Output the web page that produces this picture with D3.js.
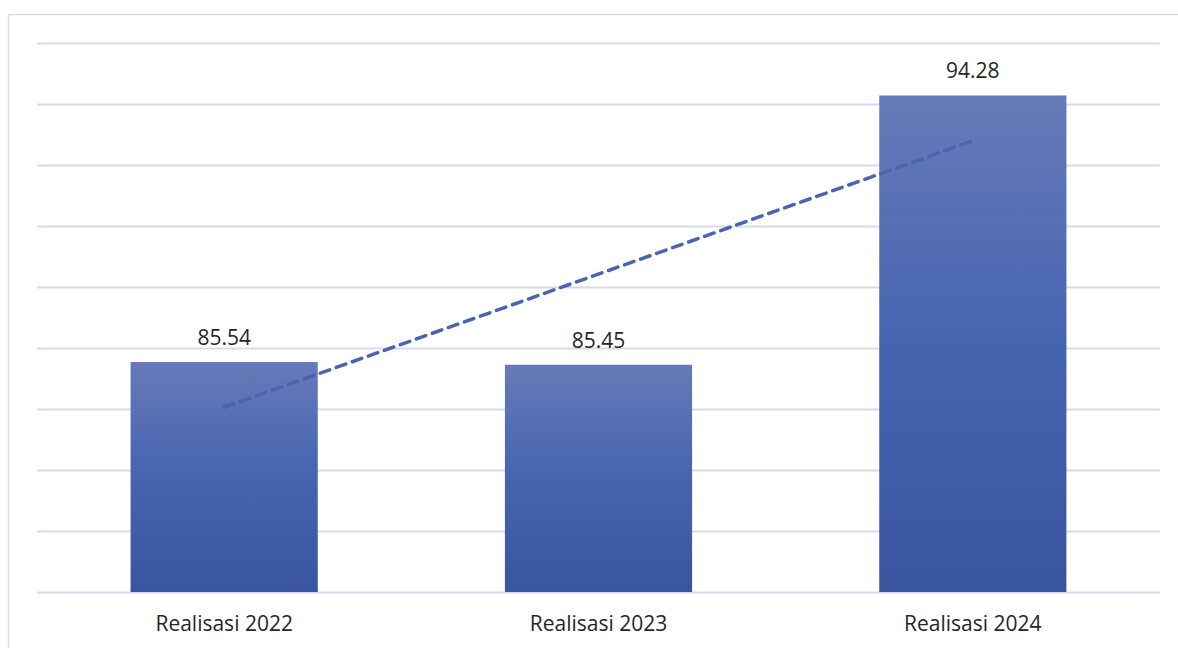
<!DOCTYPE html>
<html>
<head>
<meta charset="utf-8">
<script src="https://cdn.jsdelivr.net/npm/d3@7"></script>
<style>
  html, body { margin: 0; padding: 0; background: #ffffff; }
  svg { display: block; }
</style>
</head>
<body>
<svg id="chart" width="1178" height="648"></svg>
<script>
// Realisasi values per year
const categories = ["Realisasi 2022", "Realisasi 2023", "Realisasi 2024"];
const values = [85.54, 85.45, 94.28];
const valueLabels = ["85.54", "85.45", "94.28"];
const gridTicks = [78, 80, 82, 84, 86, 88, 90, 92, 94, 96];

const W = 1178, H = 648;
const plot = { left: 37, right: 1160, top: 43, bottom: 592 };

const svg = d3.select("#chart");

// chart frame
svg.append("rect")
  .attr("x", 8.5).attr("y", 14.5)
  .attr("width", W + 10).attr("height", H)
  .attr("fill", "none")
  .attr("stroke", "#d9d9ef")
  .attr("stroke-width", 1.5);

const x = d3.scaleBand()
  .domain(categories)
  .range([plot.left, plot.right])
  .paddingInner(0.5)
  .paddingOuter(0.25);

const y = d3.scaleLinear()
  .domain([78, 96])
  .range([plot.bottom, plot.top]);

// bar gradient
const defs = svg.append("defs");
const grad = defs.append("linearGradient")
  .attr("id", "barFill")
  .attr("x1", 0).attr("y1", 0).attr("x2", 0).attr("y2", 1);
grad.append("stop").attr("offset", "0%").attr("stop-color", "#677ab9");
grad.append("stop").attr("offset", "50%").attr("stop-color", "#4564b0");
grad.append("stop").attr("offset", "100%").attr("stop-color", "#3a559f");

// horizontal gridlines
const yAxis = d3.axisLeft(y).tickValues(gridTicks)
  .tickSize(-(plot.right - plot.left)).tickFormat("");
const gGrid = svg.append("g")
  .attr("transform", `translate(${plot.left},0)`)
  .call(yAxis);
gGrid.select(".domain").remove();
gGrid.selectAll(".tick line")
  .attr("stroke", "#d9d9ee")
  .attr("stroke-width", 2);

// bars
svg.append("g").selectAll("rect")
  .data(values)
  .join("rect")
  .attr("x", (d, i) => x(categories[i]))
  .attr("y", d => y(d))
  .attr("width", x.bandwidth())
  .attr("height", d => y(78) - y(d))
  .attr("fill", "url(#barFill)");

// value labels
svg.append("g").selectAll("text")
  .data(values)
  .join("text")
  .attr("x", (d, i) => x(categories[i]) + x.bandwidth() / 2)
  .attr("y", d => y(d) - 17)
  .attr("text-anchor", "middle")
  .attr("font-family", "'Open Sans', 'Noto Sans', sans-serif")
  .attr("font-size", 21)
  .attr("fill", "#262626")
  .text((d, i) => valueLabels[i]);

// category axis labels
const xAxis = d3.axisBottom(x).tickSize(0).tickPadding(24);
const gX = svg.append("g")
  .attr("transform", `translate(0,${plot.bottom})`)
  .call(xAxis);
gX.select(".domain").remove();
gX.selectAll("text")
  .attr("font-family", "'Open Sans', 'Noto Sans', sans-serif")
  .attr("font-size", 21)
  .attr("fill", "#262626");

// linear trendline fitted by least squares
const n = values.length;
const xs = values.map((d, i) => i + 1);
const mx = d3.mean(xs), my = d3.mean(values);
const slope = d3.sum(xs.map((xi, i) => (xi - mx) * (values[i] - my))) /
              d3.sum(xs.map(xi => (xi - mx) ** 2));
const intercept = my - slope * mx;
const trend = xs.map((xi, i) => ({ cat: categories[i], v: intercept + slope * xi }));

svg.append("path")
  .datum([trend[0], trend[n - 1]])
  .attr("d", d3.line()
    .x(d => x(d.cat) + x.bandwidth() / 2)
    .y(d => y(d.v)))
  .attr("fill", "none")
  .attr("stroke", "#4a64b0")
  .attr("stroke-width", 3.5)
  .attr("stroke-dasharray", "10,7")
  .attr("stroke-linecap", "round");
</script>
</body>
</html>
